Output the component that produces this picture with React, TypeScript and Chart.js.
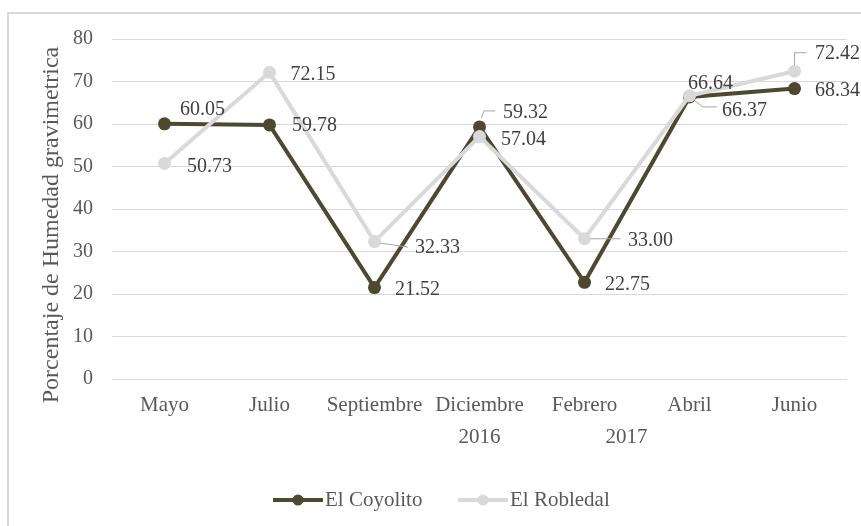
import { useEffect, useRef } from 'react';
import { Chart, registerables } from 'chart.js';

Chart.register(...registerables);

// Categories and series
const months = ['Mayo', 'Julio', 'Septiembre', 'Diciembre', 'Febrero', 'Abril', 'Junio'];
const coyolito = [60.05, 59.78, 21.52, 59.32, 22.75, 66.37, 68.34];
const robledal = [50.73, 72.15, 32.33, 57.04, 33.0, 66.64, 72.42];
const seriesNames = ['El Coyolito', 'El Robledal'];

// Year captions below the month row, anchored to category positions
const yearLabels = ['2016', '2017'];
const yearAnchors = [3, 4.4];

// Value axis
const yMin = 0;
const yMax = 80;
const yStep = 10;
const yTitle = 'Porcentaje de Humedad gravimetrica';

// Data label placement: [dx to text start, dy to text middle] from each point
const coyolitoLabelOffsets = [[15.5, -14], [22.5, 1], [20.5, 2], [23.5, -14], [20.5, 2], [32.5, 13.5], [20.5, 2]];
const robledalLabelOffsets = [[22.5, 3], [21, 2], [40.5, 6.5], [21.5, 3.5], [43.5, 2], [-1.5, -12], [20.5, -17]];

// Leader lines from point to label (relative polylines)
const coyolitoLeaders = [null, null, null, [[2, -9], [4.5, -16], [15.5, -16]], null, [[4, 3], [13.5, 10], [27.5, 10]], null];
const robledalLeaders = [null, null, [[5.5, 1.5], [33.5, 5.5]], null, [[6, 0], [36, 0]], null, [[0, -6], [0, -18.5], [12, -18.5]]];

const COYOLITO = '#4f4830';
const ROBLEDAL = '#d9d9d9';
const GRID = '#d9d9d9';
const AXIS_TEXT = '#595959';
const LABEL_TEXT = '#404040';
const FONT = "'Liberation Serif', 'Times New Roman', serif";

const labelOffsets = [coyolitoLabelOffsets, robledalLabelOffsets];
const leaders = [coyolitoLeaders, robledalLeaders];
const values = [coyolito, robledal];
const colors = [COYOLITO, ROBLEDAL];

const decorations = {
  id: 'decorations',
  beforeDraw(chart: any) {
    const ctx = chart.ctx;
    ctx.save();
    ctx.strokeStyle = '#d9d9d9';
    ctx.lineWidth = 2;
    ctx.strokeRect(8, 13, chart.width + 20, chart.height + 20);
    ctx.restore();
  },
  afterDatasetsDraw(chart: any) {
    const ctx = chart.ctx;
    ctx.save();
    for (let d = 0; d < 2; d++) {
      const meta = chart.getDatasetMeta(d);
      meta.data.forEach((pt: any, i: number) => {
        const lead = leaders[d][i];
        if (lead) {
          ctx.strokeStyle = '#a6a6a6';
          ctx.lineWidth = 1;
          ctx.beginPath();
          lead.forEach((p: number[], k: number) => {
            const x = pt.x + p[0];
            const y = pt.y + p[1];
            if (k === 0) ctx.moveTo(x, y);
            else ctx.lineTo(x, y);
          });
          ctx.stroke();
        }
        const [dx, dy] = labelOffsets[d][i];
        ctx.fillStyle = LABEL_TEXT;
        ctx.font = `20px ${FONT}`;
        ctx.textAlign = 'left';
        ctx.textBaseline = 'middle';
        ctx.fillText(values[d][i].toFixed(2), pt.x + dx, pt.y + dy);
      });
    }
    ctx.restore();
  },
  afterDraw(chart: any) {
    const ctx = chart.ctx;
    const xs = chart.scales.x;
    const area = chart.chartArea;
    ctx.save();

    // Value axis title
    ctx.translate(52, 225);
    ctx.rotate(-Math.PI / 2);
    ctx.fillStyle = AXIS_TEXT;
    ctx.font = `24px ${FONT}`;
    ctx.textAlign = 'center';
    ctx.textBaseline = 'middle';
    ctx.fillText(yTitle, 0, 0);
    ctx.setTransform(1, 0, 0, 1, 0, 0);

    // Year captions
    ctx.font = `21px ${FONT}`;
    ctx.fillStyle = AXIS_TEXT;
    ctx.textAlign = 'center';
    ctx.textBaseline = 'middle';
    yearLabels.forEach((t, i) => {
      const a = yearAnchors[i];
      const lo = Math.floor(a);
      const x0 = xs.getPixelForValue(lo);
      const x1 = xs.getPixelForValue(Math.min(lo + 1, months.length - 1));
      const x = x0 + (x1 - x0) * (a - lo);
      ctx.fillText(t, x, area.bottom + 58);
    });

    // Legend: line with marker, then name
    const legendY = 500;
    const legendStarts = [273, 458];
    ctx.font = `21px ${FONT}`;
    ctx.textAlign = 'left';
    seriesNames.forEach((name, i) => {
      const x = legendStarts[i];
      ctx.strokeStyle = colors[i];
      ctx.lineWidth = 4;
      ctx.beginPath();
      ctx.moveTo(x, legendY);
      ctx.lineTo(x + 50, legendY);
      ctx.stroke();
      ctx.fillStyle = colors[i];
      ctx.beginPath();
      ctx.arc(x + 25, legendY, 5.5, 0, Math.PI * 2);
      ctx.fill();
      ctx.fillStyle = AXIS_TEXT;
      ctx.fillText(name, x + 52, legendY);
    });
    ctx.restore();
  },
};

export default function App() {
  const ref = useRef<HTMLCanvasElement>(null);

  useEffect(() => {
    if (!ref.current) return;
    const chart = new Chart(ref.current, {
      type: 'line',
      data: {
        labels: months,
        datasets: [
          {
            label: seriesNames[0],
            data: coyolito,
            borderColor: COYOLITO,
            backgroundColor: COYOLITO,
            pointBackgroundColor: COYOLITO,
            pointBorderWidth: 0,
            pointRadius: 6.5,
            borderWidth: 4,
            tension: 0,
            order: 1,
          },
          {
            label: seriesNames[1],
            data: robledal,
            borderColor: ROBLEDAL,
            backgroundColor: ROBLEDAL,
            pointBackgroundColor: ROBLEDAL,
            pointBorderWidth: 0,
            pointRadius: 6.5,
            borderWidth: 4,
            tension: 0,
            order: 0,
          },
        ],
      },
      options: {
        animation: false,
        responsive: false,
        devicePixelRatio: 1,
        layout: { padding: { top: 39, right: 14, left: 0, bottom: 0 } },
        plugins: {
          legend: { display: false },
          tooltip: { enabled: false },
        },
        scales: {
          x: {
            offset: true,
            grid: { display: false, drawTicks: false },
            border: { display: false },
            ticks: {
              color: AXIS_TEXT,
              font: { family: FONT, size: 21 },
              padding: 14,
              maxRotation: 0,
              autoSkip: false,
            },
            afterFit: (s: any) => {
              s.height = 147;
            },
          },
          y: {
            min: yMin,
            max: yMax,
            grid: { color: GRID, lineWidth: 1, drawTicks: false },
            border: { display: false },
            ticks: {
              stepSize: yStep,
              color: AXIS_TEXT,
              font: { family: FONT, size: 20 },
              padding: 19,
            },
            afterFit: (s: any) => {
              s.width = 112;
            },
          },
        },
      },
      plugins: [decorations],
    });
    return () => chart.destroy();
  }, []);

  return (
    <div style={{ position: 'fixed', left: 0, top: 0, width: 861, height: 526, background: '#fff' }}>
      <canvas ref={ref} width={861} height={526} style={{ display: 'block' }} />
    </div>
  );
}
